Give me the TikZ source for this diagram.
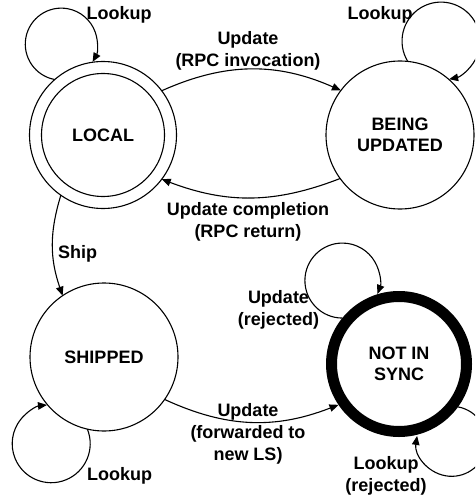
\documentclass[tikz,border=0pt]{standalone}
\usepackage{fontspec}
\setmainfont{Liberation Sans}
\usetikzlibrary{arrows.meta}
\begin{document}
\begin{tikzpicture}[x=1pt,y=1pt,
  state/.style={circle, draw, line width=1.1pt, minimum size=147pt, inner sep=0pt, outer sep=0pt, align=center, font=\bfseries\fontsize{18}{21}\selectfont},
  lbl/.style={font=\bfseries\fontsize{18}{22}\selectfont, align=center, inner sep=0pt},
  edge/.style={line width=1.1pt, -{Triangle[length=9pt,width=7.5pt]}}
]
\useasboundingbox (0,0) rectangle (475,-500);
\clip (0,0) rectangle (475,-500);
% states
\node[state] (local) at (103,-135) {LOCAL};
\draw[line width=1.1pt] (local.center) circle[radius=61.5];
\node[state, minimum size=148pt] (bu) at (400,-135) {BEING\\UPDATED};
\node[state, minimum size=148pt] (shipped) at (104,-357) {SHIPPED};
\node[state, line width=11pt, minimum size=135pt, outer sep=5.5pt] (nis) at (399,-364) {NOT IN\\SYNC};
% transitions
\draw[edge] (local.37.5) to[bend left=24] (bu.143);
\draw[edge] (bu.216) to[bend left=21] (local.323);
\draw[edge] (local.235) to[bend right=18] (shipped.124);
\draw[edge] (shipped.-35) to[bend right=23] (nis.214.8);
% loops
\draw[edge] (local.131.6) arc[start angle=259.6, end angle=-29.5, radius=36];
\draw[edge] (bu.84.4) arc[start angle=211.4, end angle=-78, radius=39];
\draw[edge] (shipped.257.7) arc[start angle=22, end angle=-263.8, radius=39];
\draw[edge] (nis.141.5) arc[start angle=269.8, end angle=-20.8, radius=37.5];
\draw[edge] (nis.-36.7) arc[start angle=79.5, end angle=-188.9, radius=35];
% labels (base = baseline of last line)
\node[lbl, anchor=base] (t1) at (119,-19.5) {Lookup};
\node[lbl, anchor=base] (t2) at (380,-19.5) {Lookup};
\node[lbl, anchor=base] (t3) at (248,-66.5) {Update\\(RPC invocation)};
\node[lbl, anchor=base] (t4) at (248,-237) {Update completion\\(RPC return)};
\node[lbl, anchor=base west] (t5) at (58,-258) {Ship};
\node[lbl, anchor=base] (t6) at (278.5,-325.5) {Update\\(rejected)};
\node[lbl, anchor=base] (t7) at (248,-460.5) {Update\\(forwarded to\\new LS)};
\node[lbl, anchor=base] (t8) at (119.5,-480) {Lookup};
\node[lbl, anchor=base] (t9) at (386,-491) {Lookup\\(rejected)};
\end{tikzpicture}
\end{document}
